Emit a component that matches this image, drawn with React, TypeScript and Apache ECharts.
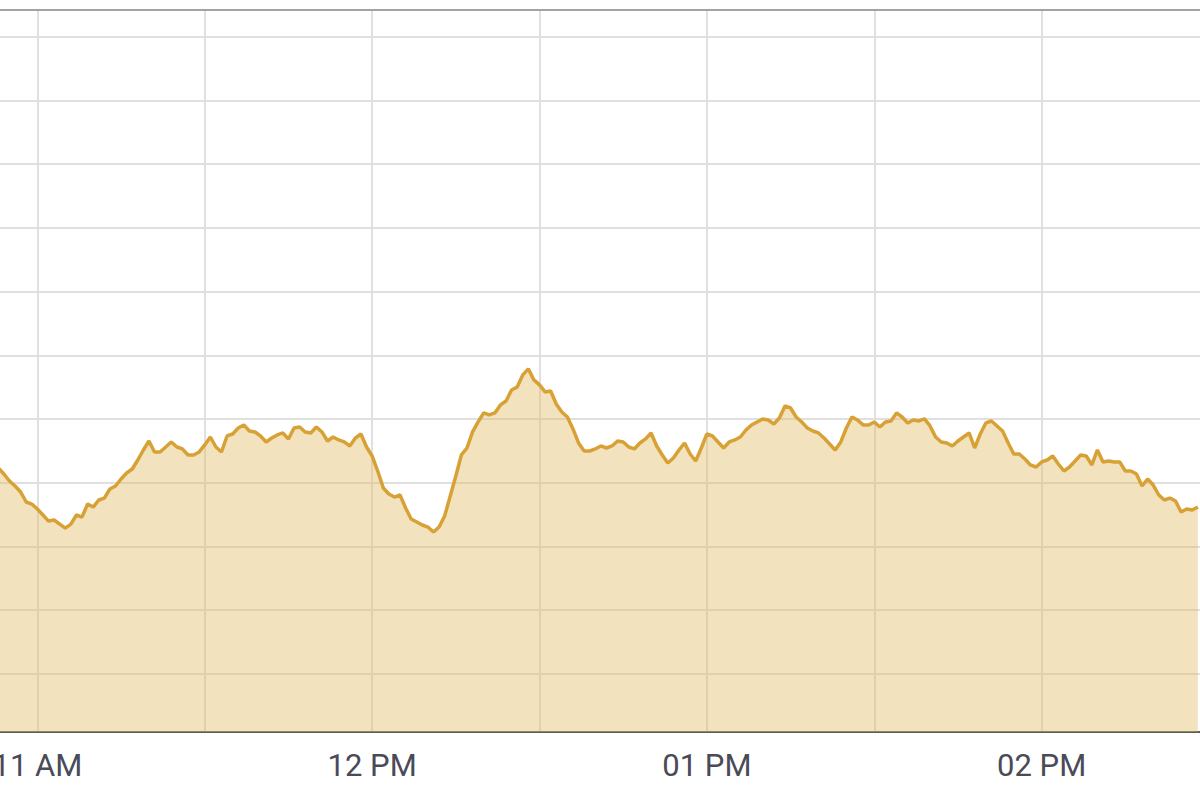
import React, { useEffect, useRef } from 'react';
import * as echarts from 'echarts';

// first sample time, then one price per minute
const startTime = '10:53';
const prices: number[] = [
  132.31, 131.37, 130.27, 129.49, 128.55, 126.98, 126.66, 125.88, 124.94, 123.99,
  124.15, 123.52, 122.89, 123.52, 124.94, 124.62, 126.66, 126.19, 127.29, 127.6,
  129.02, 129.49, 130.59, 131.53, 132.16, 133.57, 135.14, 136.55, 134.83, 134.83,
  135.61, 136.4, 135.61, 135.3, 134.36, 134.36, 134.83, 135.93, 137.18, 135.61,
  134.83, 137.34, 137.65, 138.59, 139.07, 138.12, 137.97, 137.34, 136.4, 137.02,
  137.5, 137.81, 136.87, 138.59, 138.75, 137.97, 137.81, 138.75, 137.97, 136.55,
  137.18, 136.71, 136.4, 135.77, 137.02, 137.65, 135.61, 134.2, 131.84, 129.17,
  128.23, 127.76, 128.08, 126.03, 124.31, 123.84, 123.37, 123.05, 122.27, 123.05,
  124.78, 127.92, 131.06, 134.36, 135.45, 137.97, 139.54, 140.95, 140.64, 140.95,
  142.21, 142.83, 144.56, 145.03, 146.92, 147.86, 146.13, 145.35, 144.25, 144.4,
  142.36, 141.11, 140.32, 138.44, 136.24, 134.98, 134.98, 135.3, 135.77, 135.45,
  135.77, 136.55, 136.4, 135.61, 135.3, 136.24, 136.87, 137.81, 135.77, 134.36,
  133.1, 133.88, 135.14, 136.24, 134.51, 133.41, 135.45, 137.65, 137.34, 136.4,
  135.45, 136.4, 136.71, 137.18, 138.28, 139.07, 139.54, 140.01, 139.85, 139.22,
  140.16, 142.05, 141.73, 140.32, 139.54, 138.59, 138.12, 137.81, 137.02, 136.08,
  135.14, 136.4, 138.59, 140.32, 139.85, 139.07, 139.07, 139.54, 138.75, 139.54,
  139.69, 140.95, 140.32, 139.38, 139.85, 139.69, 140.01, 138.91, 137.18, 136.4,
  136.24, 135.77, 136.55, 137.18, 137.81, 135.45, 137.65, 139.38, 139.69, 138.91,
  138.12, 136.24, 134.51, 134.51, 133.73, 132.79, 132.47, 133.26, 133.57, 134.2,
  132.94, 131.84, 132.47, 133.41, 134.36, 134.2, 132.79, 135.14, 133.26, 133.41,
  133.26, 133.26, 131.84, 131.84, 131.37, 129.49, 130.59, 129.64, 128.08, 127.29,
  127.6, 127.13, 125.41, 125.88, 125.72, 126.19,
];

// x axis tick labels (hourly)
const labelTimes = ['11:00', '12:00', '13:00', '14:00'];
const labelTexts = ['11 AM', '12 PM', '01 PM', '02 PM'];

// visible window of the axes
const axisStart = '10:30';
const axisEnd = '14:30';
const priceMin = 90.9;
const priceMax = 204.16;

const toMinutes = (t: string) => {
  const [h, m] = t.split(':').map(Number);
  return h * 60 + m;
};

const App: React.FC = () => {
  const chartRef = useRef<HTMLDivElement>(null);

  useEffect(() => {
    if (!chartRef.current) return;
    const chart = echarts.init(chartRef.current, undefined, { renderer: 'svg' });

    const start = toMinutes(startTime);
    const seriesData = prices.map((p, i) => [start + i, p]);
    const labelMinutes = labelTimes.map(toMinutes);

    const option: echarts.EChartsOption = {
      animation: false,
      grid: { left: 0, right: 0, top: 10, bottom: 67 },
      xAxis: [
        {
          type: 'value',
          min: toMinutes(axisStart),
          max: toMinutes(axisEnd),
          interval: 30,
          axisLine: { show: true, lineStyle: { color: '#5c5c5c', width: 2 } },
          axisTick: { show: false },
          splitLine: { show: true, lineStyle: { color: '#e0e0e0', width: 2 } },
          axisLabel: {
            margin: 18,
            fontSize: 31,
            fontFamily: 'Roboto',
            color: '#4a4a58',
            showMinLabel: true,
            showMaxLabel: true,
            formatter: (v: number) => {
              const idx = labelMinutes.indexOf(v);
              return idx >= 0 ? labelTexts[idx] : '';
            },
          },
        },
        {
          type: 'value',
          position: 'top',
          min: toMinutes(axisStart),
          max: toMinutes(axisEnd),
          interval: 30,
          axisLine: { show: true, lineStyle: { color: '#a3a3a3', width: 2 } },
          axisTick: { show: false },
          axisLabel: { show: false },
          splitLine: { show: false },
        },
      ],
      yAxis: {
        type: 'value',
        min: priceMin,
        max: priceMax,
        splitNumber: 11,
        axisLine: { show: false },
        axisTick: { show: false },
        axisLabel: { show: false },
        splitLine: { show: true, lineStyle: { color: '#e0e0e0', width: 2 } },
      },
      series: [
        {
          type: 'line',
          xAxisIndex: 0,
          data: seriesData,
          showSymbol: false,
          symbol: 'none',
          lineStyle: { color: '#d8a135', width: 3.5 },
          itemStyle: { color: '#d8a135' },
          areaStyle: { color: 'rgb(226, 185, 100)', opacity: 0.42, origin: 'start' },
        },
      ],
    };
    chart.setOption(option);

    return () => {
      chart.dispose();
    };
  }, []);

  return (
    <div
      style={{
        position: 'fixed',
        left: 0,
        top: 0,
        width: '1200px',
        height: '799px',
        overflow: 'hidden',
        background: '#fff',
      }}
    >
      <div
        ref={chartRef}
        style={{ position: 'absolute', left: '-133px', top: 0, width: '1345px', height: '799px' }}
      />
    </div>
  );
};

export default App;
